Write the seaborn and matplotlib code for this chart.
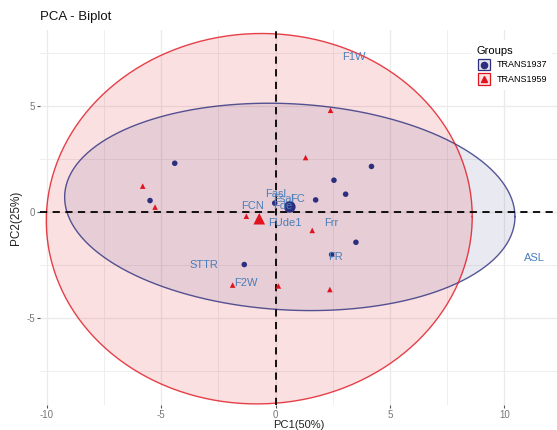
import numpy as np
import pandas as pd
import matplotlib
matplotlib.use("Agg")
import matplotlib.pyplot as plt
import matplotlib.colors as mcolors
import seaborn as sns
from matplotlib.patches import Rectangle
from matplotlib.lines import Line2D
from matplotlib.legend_handler import HandlerBase

# ---------------- data ----------------
groups = ["TRANS1937", "TRANS1959"]

pc1_1937 = [-4.41, -5.49, 4.19, 2.55, 3.06, 1.75, 3.51, 2.45, -1.37, -0.04]
pc2_1937 = [2.31, 0.55, 2.16, 1.51, 0.85, 0.58, -1.42, -2.00, -2.47, 0.43]

pc1_1959 = [-5.81, -5.27, 2.40, 1.31, 1.60, -1.28, -1.88, 0.12, 2.37]
pc2_1959 = [1.23, 0.24, 4.81, 2.58, -0.86, -0.19, -3.44, -3.48, -3.65]

var_names = ["F1W", "ASL", "Frr", "FR", "STTR", "F2W", "FCN", "Fasl", "Fsal", "FC", "Fde", "FUde1"]
var_pc1 = [3.41, 11.31, 2.45, 2.62, -3.13, -1.31, -1.02, 0.00, 0.35, 0.95, 0.30, 0.40]
var_pc2 = [7.33, -2.14, -0.49, -2.11, -2.47, -3.33, 0.30, 0.85, 0.60, 0.60, 0.30, -0.53]

x_ticks = [-10, -5, 0, 5, 10]
y_ticks = [-5, 0, 5]

colors = {"TRANS1937": "#2C2F7F", "TRANS1959": "#E0141E"}
markers = {"TRANS1937": "o", "TRANS1959": "^"}

df = pd.DataFrame({
    "PC1": pc1_1937 + pc1_1959,
    "PC2": pc2_1937 + pc2_1959,
    "Group": [groups[0]] * len(pc1_1937) + [groups[1]] * len(pc1_1959),
})
means = df.groupby("Group", as_index=False)[["PC1", "PC2"]].mean()


def norm_ellipse(x, y, level=0.95, n=300):
    X = np.column_stack([np.asarray(x, float), np.asarray(y, float)])
    c = X.mean(axis=0)
    S = np.cov(X.T)
    dfd = len(X) - 1
    q = dfd / 2.0 * ((1 - level) ** (-2.0 / dfd) - 1)  # qf(level, 2, dfd)
    r = np.sqrt(2 * q)
    t = np.linspace(0, 2 * np.pi, n)
    u = np.column_stack([np.cos(t), np.sin(t)])
    R = np.linalg.cholesky(S).T
    pts = c + r * u @ R
    return pts[:, 0], pts[:, 1]


def light(c, a):
    r, g, b = mcolors.to_rgb(c)
    return (1 - a + a * r, 1 - a + a * g, 1 - a + a * b)


class GroupKey:
    def __init__(self, color, marker):
        self.color = color
        self.marker = marker


class SquareHandler(HandlerBase):
    def create_artists(self, legend, orig_handle, xdescent, ydescent, width,
                       height, fontsize, trans):
        side = min(width, height)
        cx = width / 2 - xdescent
        cy = height / 2 - ydescent
        rect = Rectangle((cx - side / 2, cy - side / 2), side, side,
                         facecolor=light(orig_handle.color, 0.12),
                         edgecolor=orig_handle.color, lw=0.9, transform=trans)
        mk = Line2D([cx], [cy], marker=orig_handle.marker, color=orig_handle.color,
                    ls="", markersize=4.5, transform=trans)
        return [rect, mk]


plt.rcParams["font.family"] = ["Liberation Sans", "DejaVu Sans"]
plt.rcParams["axes.unicode_minus"] = False

fig = plt.figure(figsize=(5.57, 4.30), dpi=100)
ax = fig.add_axes([40 / 557, 25 / 430, 517 / 557, 375 / 430])
ax.set_facecolor("white")

# grid
for v in np.arange(-10, 12.6, 2.5):
    ax.axvline(v, color="#EBEBEB", lw=1.0 if v % 5 == 0 else 0.6, zorder=0)
for v in np.arange(-7.5, 8.6, 2.5):
    ax.axhline(v, color="#EBEBEB", lw=1.0 if v % 5 == 0 else 0.6, zorder=0)

# ellipses
alphas = {"TRANS1937": 0.10, "TRANS1959": 0.13}
for g in groups:
    sub = df[df.Group == g]
    ex, ey = norm_ellipse(sub.PC1, sub.PC2)
    ax.fill(ex, ey, color=colors[g], alpha=alphas[g], lw=0, zorder=1)
    ax.plot(ex, ey, color=colors[g], lw=1.0, alpha=0.8, zorder=2)

# reference lines
ax.axhline(0, color="black", ls=(0, (4, 3)), lw=1.3, zorder=3)
ax.axvline(0, color="black", ls=(0, (4, 3)), lw=1.3, zorder=3)

# individuals
sns.scatterplot(data=df, x="PC1", y="PC2", hue="Group", style="Group",
                palette=colors, markers=markers, s=16, linewidth=0,
                legend=False, ax=ax, zorder=4)
sns.scatterplot(data=means, x="PC1", y="PC2", hue="Group", style="Group",
                palette=colors, markers=markers, s=70, linewidth=0,
                legend=False, ax=ax, zorder=4)

# variables
for name, vx, vy in zip(var_names, var_pc1, var_pc2):
    ax.text(vx, vy, name, color="#4A7EBB", fontsize=8, ha="center", va="center",
            zorder=5)

ax.set_xlim(-10.3, 12.3)
ax.set_ylim(-9.1, 8.6)
ax.set_xticks(x_ticks)
ax.set_yticks(y_ticks)
ax.tick_params(axis="both", length=2, width=0.8, color="#555555",
               labelsize=7, labelcolor="#777777", pad=1.5)
for s in ax.spines.values():
    s.set_visible(False)
ax.set_xlabel("PC1(50%)", fontsize=8, color="#222222", labelpad=0)
ax.set_ylabel("PC2(25%)", fontsize=8.5, color="#222222", labelpad=3)

fig.text(40 / 557, 1 - 17 / 430, "PCA - Biplot", fontsize=9.5, color="#111111",
         va="center", ha="left")

handles = [GroupKey(colors[g], markers[g]) for g in groups]
leg = ax.legend(handles, groups, handler_map={GroupKey: SquareHandler()},
                title="Groups", loc="upper right", bbox_to_anchor=(1.0, 0.985),
                fontsize=6.5, title_fontsize=8, frameon=True, handlelength=1.6,
                handleheight=1.6, handletextpad=0.6, labelspacing=0.35,
                borderpad=0.6, framealpha=1)
leg.get_frame().set_edgecolor("none")
leg._legend_box.align = "left"
leg.set_zorder(10)

fig.savefig("out.png", dpi=100, facecolor="white")
